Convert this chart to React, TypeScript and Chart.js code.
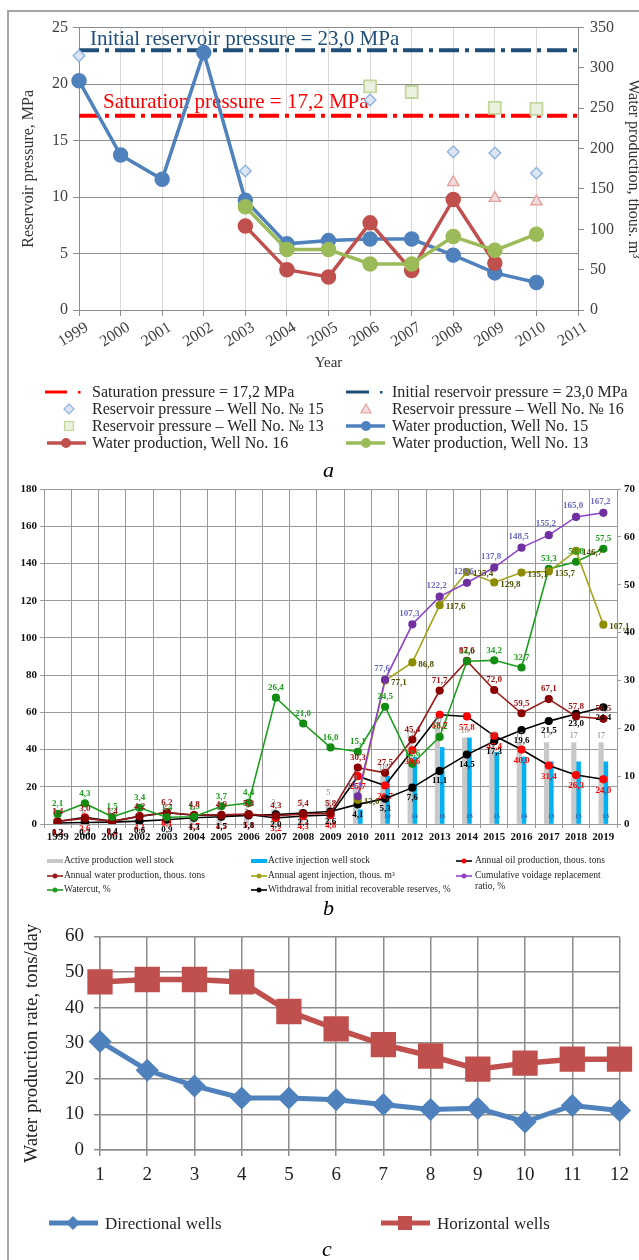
import React, { useEffect, useRef } from "react";
import { Chart, registerables } from "chart.js";

Chart.register(...registerables);

const SERIF = '"Liberation Serif", "Times New Roman", Times, serif';

// ---------------- Panel a data ----------------
const yearsA = ["1999", "2000", "2001", "2002", "2003", "2004", "2005", "2006", "2007", "2008", "2009", "2010", "2011"];
const initialPressure = 23.0;
const saturationPressure = 17.2;
const pressureWell15 = [22.5, null, null, null, 12.3, null, null, 18.6, null, 14.0, 13.9, 12.1, null];
const pressureWell16 = [null, null, null, null, null, null, null, null, null, 11.3, 9.9, 9.6, null];
const pressureWell13 = [null, null, null, null, null, null, null, 19.8, 19.3, null, 17.9, 17.8, null];
const waterWell15 = [284, 192, 162, 319, 136, 82, 86, 88, 88, 68, 46, 34, null];
const waterWell16 = [null, null, null, null, 104, 50, 41, 108, 49, 137, 58, null, null];
const waterWell13 = [null, null, null, null, 128, 75, 75, 57, 57, 91, 74, 94, null];
const pressureAxisA = { min: 0, max: 25, step: 5 };
const waterAxisA = { min: 0, max: 350, step: 50 };

// ---------------- Panel b data ----------------
const yearsB = ["1999", "2000", "2001", "2002", "2003", "2004", "2005", "2006", "2007", "2008", "2009", "2010", "2011", "2012", "2013", "2014", "2015", "2016", "2017", "2018", "2019"];
const productionWellStock = [1, 1, 1, 1, 2, 2, 2, 2, 3, 3, 5, 8, 10, 17, 20, 18, 17, 17, 17, 17, 17];
const injectionWellStock = [null, null, null, null, null, null, null, null, null, null, null, 3, 10, 14, 16, 18, 15, 14, 13, 13, 13];
const oilProduction = [1.3, 3.6, 1.4, 4.1, 6.1, 4.7, 4.7, 5.1, 3.2, 4.3, 4.8, 25.7, 20.7, 39.6, 58.7, 57.8, 47.4, 40.0, 31.4, 26.3, 24.0];
const waterProduction = [1.4, 3.0, 1.4, 4.2, 6.2, 4.8, 4.9, 5.3, 4.3, 5.4, 5.8, 30.3, 27.5, 45.4, 71.7, 87.6, 72.0, 59.5, 67.1, 57.8, 56.5];
const agentInjection = [null, null, null, null, null, null, null, null, null, null, null, 13.0, 77.1, 86.8, 117.6, 135.4, 129.8, 135.1, 135.7, 146.7, 107.1];
const voidageReplacement = [null, null, null, null, null, null, null, null, null, null, null, 14.9, 77.6, 107.3, 122.2, 129.6, 137.8, 148.5, 155.2, 165.0, 167.2];
const watercut = [2.1, 4.3, 1.5, 3.4, 1.4, 1.5, 3.7, 4.4, 26.4, 21.0, 16.0, 15.1, 24.5, 12.6, 18.2, 34.0, 34.2, 32.7, 53.3, 54.8, 57.5];
const withdrawal = [0.2, 0.3, 0.4, 0.6, 0.9, 1.3, 1.5, 1.8, 2.0, 2.3, 2.6, 4.1, 5.3, 7.6, 11.1, 14.5, 17.3, 19.6, 21.5, 23.0, 24.4];
const leftAxisB = { min: 0, max: 180, step: 20 };
const rightAxisB = { min: 0, max: 70, step: 10 };

// ---------------- Panel c data ----------------
const wellNumbers = ["1", "2", "3", "4", "5", "6", "7", "8", "9", "10", "11", "12"];
const directionalWells = [30.5, 22.4, 18.0, 14.6, 14.6, 14.1, 12.8, 11.4, 11.7, 7.9, 12.5, 11.1];
const horizontalWells = [47.2, 47.9, 47.9, 47.2, 38.9, 34.0, 29.6, 26.4, 22.7, 24.4, 25.5, 25.5];
const rateAxisC = { min: 0, max: 60, step: 10 };

const fmt = (v: number, dec: number) => (dec ? v.toFixed(dec).replace(".", ",") : String(v));

// Draws value labels for datasets carrying an `lbl` option
const pointLabels = {
  id: "pointLabels",
  afterDatasetsDraw(chart: any) {
    const ctx = chart.ctx;
    chart.data.datasets.forEach((ds: any, i: number) => {
      const l = ds.lbl;
      if (!l) return;
      const meta = chart.getDatasetMeta(i);
      ctx.save();
      ctx.font = l.font;
      ctx.fillStyle = l.color;
      ctx.textAlign = l.align || "center";
      ctx.textBaseline = "middle";
      meta.data.forEach((el: any, j: number) => {
        const v = ds.data[j];
        if (v == null) return;
        let y = el.y + (l.dy || 0);
        if (l.atBase) y = chart.scales[ds.yAxisID].getPixelForValue(0) + (l.dy || 0);
        ctx.fillText(fmt(v, l.dec), el.x + (l.dx || 0), y);
      });
      ctx.restore();
    });
  },
};

// Reference-line captions for panel a
const refCaptions = {
  id: "refCaptions",
  beforeDatasetsDraw(chart: any) {
    const ctx = chart.ctx;
    const y = chart.scales.y;
    const left = chart.chartArea.left;
    ctx.save();
    ctx.font = `21px ${SERIF}`;
    ctx.textBaseline = "alphabetic";
    ctx.fillStyle = "#1F4E79";
    ctx.fillText("Initial reservoir pressure = 23,0 MPa", left + 11, y.getPixelForValue(initialPressure) - 5);
    ctx.fillStyle = "#FF0000";
    ctx.fillText("Saturation pressure = 17,2 MPa", left + 24, y.getPixelForValue(saturationPressure) - 8);
    ctx.restore();
  },
};

function makeA(): any {
  const tickFont = { family: SERIF, size: 16 };
  return {
    type: "line",
    data: {
      labels: yearsA,
      datasets: [
        { data: pressureWell13, showLine: false, pointStyle: "rect", pointRadius: 8.5, pointBackgroundColor: "#EBF1DE", pointBorderColor: "#C3D69B", pointBorderWidth: 1.8, yAxisID: "y" },
        { data: pressureWell16, showLine: false, pointStyle: "triangle", pointRadius: 6.5, pointBackgroundColor: "#F2DCDB", pointBorderColor: "#E6A09E", pointBorderWidth: 1.4, yAxisID: "y" },
        { data: pressureWell15, showLine: false, pointStyle: "rectRot", pointRadius: 5.8, pointBackgroundColor: "#DCE6F2", pointBorderColor: "#8EB4E3", pointBorderWidth: 1.4, yAxisID: "y" },
        { data: waterWell13, borderColor: "#9BBB59", backgroundColor: "#9BBB59", pointBackgroundColor: "#9BBB59", pointBorderColor: "#9BBB59", borderWidth: 3.5, pointRadius: 6, yAxisID: "y2" },
        { data: waterWell16, borderColor: "#C0504D", backgroundColor: "#C0504D", pointBackgroundColor: "#C0504D", pointBorderColor: "#C0504D", borderWidth: 3.5, pointRadius: 6, yAxisID: "y2" },
        { data: waterWell15, borderColor: "#4F81BD", backgroundColor: "#4F81BD", pointBackgroundColor: "#4F81BD", pointBorderColor: "#4F81BD", borderWidth: 3.5, pointRadius: 6, yAxisID: "y2" },
        { data: yearsA.map(() => saturationPressure), borderColor: "#FF0000", borderWidth: 4, borderDash: [20, 6, 4, 6], pointRadius: 0, yAxisID: "y" },
        { data: yearsA.map(() => initialPressure), borderColor: "#1F4E79", borderWidth: 4, borderDash: [20, 6, 4, 6], pointRadius: 0, yAxisID: "y" },
      ],
    },
    options: {
      responsive: false,
      animation: false,
      layout: { padding: { top: 7, left: 0, right: 0, bottom: 0 } },
      plugins: { legend: { display: false }, tooltip: { enabled: false } },
      elements: { line: { tension: 0 } },
      scales: {
        x: {
          type: "category",
          offset: false,
          grid: { color: "#D9D9D9", lineWidth: 1, tickLength: 6, tickColor: "#8C8C8C" },
          border: { color: "#8C8C8C" },
          ticks: { font: tickFont, color: "#404040", minRotation: 32, maxRotation: 32, autoSkip: false, labelOffset: 8, padding: 2 },
          title: { display: true, text: "Year", font: { family: SERIF, size: 15 }, color: "#333", padding: { top: 0, bottom: 5 } },
          afterFit: (s: any) => { s.height = 67; },
        },
        y: {
          position: "left",
          min: pressureAxisA.min, max: pressureAxisA.max,
          ticks: { stepSize: pressureAxisA.step, font: tickFont, color: "#404040", padding: 5 },
          grid: { color: "#8C8C8C", lineWidth: 1, tickLength: 6, tickColor: "#8C8C8C" },
          border: { color: "#8C8C8C" },
          title: { display: true, text: "Reservoir pressure, MPa", font: { family: SERIF, size: 16 }, color: "#333", padding: { top: 9, bottom: 0 } },
          afterFit: (s: any) => { s.width = 69; },
        },
        y2: {
          position: "right",
          min: waterAxisA.min, max: waterAxisA.max,
          ticks: { stepSize: waterAxisA.step, font: tickFont, color: "#404040", padding: 6 },
          grid: { drawOnChartArea: false, tickLength: 6, tickColor: "#8C8C8C" },
          border: { color: "#8C8C8C" },
          title: { display: true, text: "Water production, thous. m³", font: { family: SERIF, size: 16 }, color: "#333", padding: { top: -4, bottom: 0 } },
          afterFit: (s: any) => { s.width = 61; },
        },
      },
    },
    plugins: [refCaptions],
  };
}

function makeB(): any {
  const tickFont = { family: SERIF, size: 11, weight: "bold" };
  const lf = `bold 9px ${SERIF}`;
  const line = (data: any[], line: string, marker: string, lbl: any, yAxisID = "y") => ({
    type: "line", data, yAxisID, order: 0,
    borderColor: line, backgroundColor: marker, pointBackgroundColor: marker, pointBorderColor: marker,
    borderWidth: 1.6, pointRadius: 3.3, tension: 0, lbl,
  });
  return {
    type: "bar",
    data: {
      labels: yearsB,
      datasets: [
        line(voidageReplacement, "#8E44C8", "#7030A0", { font: lf, color: "#6A6AC0", dx: -3, dy: -11, dec: 1 }),
        line(agentInjection, "#A3A31A", "#8C8C00", { font: lf, color: "#4D4D00", dx: 6, dy: 2, dec: 1, align: "left" }),
        line(watercut, "#1E9E1E", "#128C12", { font: lf, color: "#1E9E1E", dy: -10, dec: 1 }, "y2"),
        line(waterProduction, "#9B1B1B", "#8B0000", { font: lf, color: "#A01818", dy: -10, dec: 1 }),
        line(oilProduction, "#000000", "#FF0000", { font: lf, color: "#FF0000", dy: 11, dec: 1 }),
        line(withdrawal, "#000000", "#000000", { font: lf, color: "#000000", dy: 10, dec: 1 }, "y2"),
        { type: "bar", data: productionWellStock, yAxisID: "y2", order: 1, backgroundColor: "#C8C8C8", barThickness: 4.5, lbl: { font: `8px ${SERIF}`, color: "#808080", dy: -7, dec: 0 } },
        { type: "bar", data: injectionWellStock, yAxisID: "y2", order: 1, backgroundColor: "#00B0F0", barThickness: 4.5, lbl: { font: `7px ${SERIF}`, color: "#3050A0", dy: -8, dec: 0, atBase: true } },
      ],
    },
    options: {
      responsive: false,
      animation: false,
      layout: { padding: { top: 19, left: 0, right: 0, bottom: 0 } },
      plugins: { legend: { display: false }, tooltip: { enabled: false } },
      scales: {
        x: {
          type: "category",
          offset: true,
          grid: { offset: true, color: "#9A9A9A", lineWidth: 1, tickLength: 4, tickColor: "#9A9A9A" },
          border: { color: "#9A9A9A" },
          ticks: { font: tickFont, color: "#111", autoSkip: false, maxRotation: 0, minRotation: 0, padding: 3 },
          afterFit: (s: any) => { s.height = 18; },
        },
        y: {
          position: "left",
          min: leftAxisB.min, max: leftAxisB.max,
          ticks: { stepSize: leftAxisB.step, font: tickFont, color: "#111", padding: 3 },
          grid: { color: "#9A9A9A", lineWidth: 1, tickLength: 4, tickColor: "#9A9A9A" },
          border: { color: "#9A9A9A" },
          afterFit: (s: any) => { s.width = 36; },
        },
        y2: {
          position: "right",
          min: rightAxisB.min, max: rightAxisB.max,
          ticks: { stepSize: rightAxisB.step, font: tickFont, color: "#111", padding: 3 },
          grid: { drawOnChartArea: false, tickLength: 4, tickColor: "#9A9A9A" },
          border: { color: "#9A9A9A" },
          afterFit: (s: any) => { s.width = 22; },
        },
      },
    },
    plugins: [pointLabels],
  };
}

function makeC(): any {
  const tickFont = { family: SERIF, size: 19 };
  return {
    type: "line",
    data: {
      labels: wellNumbers,
      datasets: [
        { data: directionalWells, borderColor: "#4F81BD", backgroundColor: "#4F81BD", pointBackgroundColor: "#4F81BD", pointBorderColor: "#4F81BD", borderWidth: 5, pointStyle: "rectRot", pointRadius: 8, tension: 0, clip: false },
        { data: horizontalWells, borderColor: "#C0504D", backgroundColor: "#C0504D", pointBackgroundColor: "#C0504D", pointBorderColor: "#C0504D", borderWidth: 5.5, pointStyle: "rect", pointRadius: 14, tension: 0, clip: false },
      ],
    },
    options: {
      responsive: false,
      animation: false,
      layout: { padding: { top: 19, left: 0, right: 10, bottom: 0 } },
      plugins: { legend: { display: false }, tooltip: { enabled: false } },
      scales: {
        x: {
          type: "category",
          offset: false,
          grid: { color: "#8C8C8C", lineWidth: 1.5, tickLength: 6, tickColor: "#8C8C8C" },
          border: { color: "#8C8C8C", width: 1.5 },
          ticks: { font: tickFont, color: "#222", autoSkip: false, maxRotation: 0, padding: 8 },
          afterFit: (s: any) => { s.height = 40; },
        },
        y: {
          min: rateAxisC.min, max: rateAxisC.max,
          ticks: { stepSize: rateAxisC.step, font: tickFont, color: "#222", padding: 10 },
          grid: { color: "#8C8C8C", lineWidth: 1.5, tickLength: 6, tickColor: "#8C8C8C" },
          border: { color: "#8C8C8C", width: 1.5 },
          title: { display: true, text: "Water production rate, tons/day", font: { family: SERIF, size: 19 }, color: "#222", padding: { top: 11, bottom: 0 } },
          afterFit: (s: any) => { s.width = 90; },
        },
      },
    },
  };
}

function ChartCanvas({ make, left, top, width, height }: any) {
  const ref = useRef<HTMLCanvasElement>(null);
  useEffect(() => {
    const chart = new Chart(ref.current as HTMLCanvasElement, make());
    return () => chart.destroy();
  }, []);
  return <canvas ref={ref} width={width} height={height} style={{ position: "absolute", left, top, width, height }} />;
}

const Txt = ({ x, cy, size, children, style }: any) => (
  <div style={{ position: "absolute", left: x, top: cy - size / 2, fontFamily: SERIF, fontSize: size, lineHeight: 1, whiteSpace: "nowrap", color: "#262626", ...style }}>{children}</div>
);

const Letter = ({ x, baseline, ch }: any) => (
  <div style={{ position: "absolute", left: x, top: baseline - 18.4, fontFamily: SERIF, fontSize: 22, fontStyle: "italic", lineHeight: 1, color: "#000" }}>{ch}</div>
);

function LineMarker({ x1, x2, cy, color, w, r, mx }: any) {
  return (
    <g>
      <line x1={x1} y1={cy} x2={x2} y2={cy} stroke={color} strokeWidth={w} />
      <circle cx={mx} cy={cy} r={r} fill={color} />
    </g>
  );
}

export default function App() {
  const rowsA = [392, 409, 426, 443];
  const rowsB = [861, 876, 890];
  const fa = 16;
  const fb = 9.5;
  return (
    <div style={{ position: "absolute", left: 0, top: 0, width: 639, height: 1260, background: "#fff", overflow: "hidden" }}>
      {/* frame */}
      <div style={{ position: "absolute", left: 7, top: 10, width: 2, height: 1250, background: "#A6A6A6" }} />
      <div style={{ position: "absolute", left: 7, top: 10, width: 632, height: 2, background: "#A6A6A6" }} />

      <ChartCanvas make={makeA} left={10} top={12} width={629} height={365} />
      <ChartCanvas make={makeB} left={8} top={470} width={631} height={372} />
      <ChartCanvas make={makeC} left={10} top={915} width={629} height={275} />

      <svg width={639} height={1260} style={{ position: "absolute", left: 0, top: 0, pointerEvents: "none" }}>
        {/* legend a */}
        <line x1={45} y1={rowsA[0]} x2={67} y2={rowsA[0]} stroke="#FF0000" strokeWidth={3} />
        <rect x={78} y={rowsA[0] - 1} width={2.5} height={2.5} fill="#FF0000" />
        <line x1={346} y1={rowsA[0]} x2={369} y2={rowsA[0]} stroke="#1F4E79" strokeWidth={3} />
        <rect x={380} y={rowsA[0] - 1} width={2.5} height={2.5} fill="#1F4E79" />
        <polygon points={`69,${rowsA[1] - 5} 74,${rowsA[1]} 69,${rowsA[1] + 5} 64,${rowsA[1]}`} fill="#DCE6F2" stroke="#8EB4E3" strokeWidth={1.2} />
        <polygon points={`366,${rowsA[1] - 5} 371,${rowsA[1] + 4} 361,${rowsA[1] + 4}`} fill="#F2DCDB" stroke="#E6A09E" strokeWidth={1.2} />
        <rect x={64.5} y={rowsA[2] - 4.5} width={9} height={9} fill="#EBF1DE" stroke="#C3D69B" strokeWidth={1.2} />
        <LineMarker x1={346} x2={385} cy={rowsA[2]} color="#4F81BD" w={3.5} r={5} mx={366} />
        <LineMarker x1={47} x2={86} cy={rowsA[3]} color="#C0504D" w={3.5} r={5} mx={66} />
        <LineMarker x1={346} x2={385} cy={rowsA[3]} color="#9BBB59" w={3.5} r={5} mx={366} />

        {/* legend b */}
        <rect x={47} y={rowsB[0] - 2} width={16} height={4} fill="#C8C8C8" />
        <rect x={251} y={rowsB[0] - 2} width={16} height={4} fill="#00B0F0" />
        <line x1={456} y1={rowsB[0]} x2={472} y2={rowsB[0]} stroke="#000" strokeWidth={1.6} />
        <circle cx={464} cy={rowsB[0]} r={2.5} fill="#FF0000" />
        <LineMarker x1={47} x2={63} cy={rowsB[1]} color="#9B1B1B" w={1.6} r={2.5} mx={55} />
        <LineMarker x1={251} x2={267} cy={rowsB[1]} color="#A3A31A" w={1.6} r={2.5} mx={259} />
        <LineMarker x1={456} x2={472} cy={rowsB[1]} color="#8E44C8" w={1.6} r={2.5} mx={464} />
        <LineMarker x1={47} x2={63} cy={rowsB[2]} color="#1E9E1E" w={1.6} r={2.5} mx={55} />
        <LineMarker x1={251} x2={267} cy={rowsB[2]} color="#000" w={1.6} r={2.5} mx={259} />

        {/* legend c */}
        <line x1={49} y1={1223} x2={98} y2={1223} stroke="#4F81BD" strokeWidth={5} />
        <polygon points="73,1216 80,1223 73,1230 66,1223" fill="#4F81BD" />
        <line x1={381} y1={1223} x2={430} y2={1223} stroke="#C0504D" strokeWidth={5} />
        <rect x={398} y={1216} width={14} height={14} fill="#C0504D" />
      </svg>

      {/* legend a text */}
      <Txt x={92} cy={rowsA[0]} size={fa}>Saturation pressure = 17,2 MPa</Txt>
      <Txt x={392} cy={rowsA[0]} size={fa}>Initial reservoir pressure = 23,0 MPa</Txt>
      <Txt x={92} cy={rowsA[1]} size={fa}>Reservoir pressure – Well No. № 15</Txt>
      <Txt x={392} cy={rowsA[1]} size={fa}>Reservoir pressure – Well No. № 16</Txt>
      <Txt x={92} cy={rowsA[2]} size={fa}>Reservoir pressure – Well No. № 13</Txt>
      <Txt x={392} cy={rowsA[2]} size={fa}>Water production, Well No. 15</Txt>
      <Txt x={92} cy={rowsA[3]} size={fa}>Water production, Well No. 16</Txt>
      <Txt x={392} cy={rowsA[3]} size={fa}>Water production, Well No. 13</Txt>

      {/* legend b text */}
      <Txt x={64} cy={rowsB[0]} size={fb}>Active production well stock</Txt>
      <Txt x={268} cy={rowsB[0]} size={fb}>Active injection well stock</Txt>
      <Txt x={475} cy={rowsB[0]} size={fb}>Annual oil production, thous. tons</Txt>
      <Txt x={64} cy={rowsB[1]} size={fb}>Annual water production, thous. tons</Txt>
      <Txt x={268} cy={rowsB[1]} size={fb}>Annual agent injection, thous. m³</Txt>
      <Txt x={475} cy={rowsB[1]} size={fb}>Cumulative voidage replacement</Txt>
      <Txt x={475} cy={rowsB[1] + 10.5} size={fb}>ratio, %</Txt>
      <Txt x={64} cy={rowsB[2]} size={fb}>Watercut, %</Txt>
      <Txt x={268} cy={rowsB[2]} size={fb}>Withdrawal from initial recoverable reserves, %</Txt>

      {/* legend c text */}
      <Txt x={105} cy={1223} size={17}>Directional wells</Txt>
      <Txt x={437} cy={1223} size={17}>Horizontal wells</Txt>

      <Letter x={323} baseline={477} ch="a" />
      <Letter x={323} baseline={915} ch="b" />
      <Letter x={322} baseline={1256} ch="c" />
    </div>
  );
}
